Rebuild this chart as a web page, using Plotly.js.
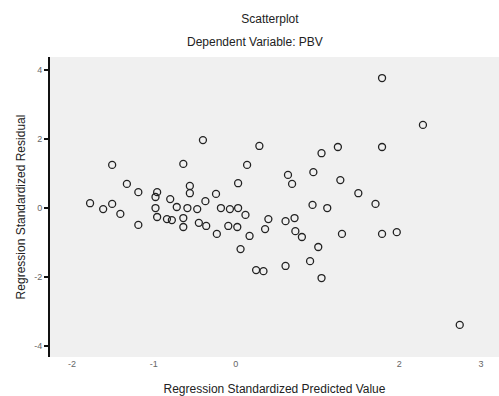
<!DOCTYPE html>
<html>
<head>
<meta charset="utf-8">
<script src="https://cdn.plot.ly/plotly-3.0.1.min.js"></script>
<style>html,body{margin:0;padding:0;background:#fff;}#chart{width:499px;height:396px;}</style>
</head>
<body>
<div id="chart"></div>
<script>
// Regression standardized predicted value (x)
var predicted = [1.79, 2.29, -0.40, 0.29, 1.25, 1.79, 1.05, -0.64, -1.51, 0.14,
  0.95, 0.64, 0.69, 1.28, 0.03, -1.33, -0.56, -0.56, -1.19, -0.96,
  -0.98, -0.80, -0.24, 1.50, -0.37, -1.78, -1.51, -1.62, 1.71, 0.94,
  1.12, -0.72, -0.59, -0.47, -0.98, -0.18, -0.07, 0.03, -1.41, 0.12,
  -0.96, -0.84, -0.78, -0.64, 0.40, 0.61, 0.72, -1.19, -0.64, -0.45,
  -0.36, -0.23, -0.09, 0.02, 0.36, 0.17, 0.73, 0.81, 1.30, 1.79,
  1.97, 0.06, 1.01, 0.91, 0.61, 0.25, 0.34, 1.05, 2.74];
// Regression standardized residual (y)
var residual = [3.77, 2.41, 1.97, 1.80, 1.77, 1.77, 1.59, 1.28, 1.25, 1.25,
  1.04, 0.96, 0.70, 0.81, 0.72, 0.70, 0.64, 0.43, 0.46, 0.46,
  0.32, 0.26, 0.41, 0.43, 0.20, 0.14, 0.12, -0.03, 0.12, 0.09,
  0.00, 0.03, 0.00, -0.03, 0.00, 0.00, -0.03, 0.00, -0.17, -0.20,
  -0.26, -0.32, -0.35, -0.29, -0.32, -0.38, -0.29, -0.49, -0.55, -0.43,
  -0.52, -0.75, -0.52, -0.55, -0.61, -0.81, -0.67, -0.84, -0.75, -0.75,
  -0.70, -1.19, -1.13, -1.54, -1.68, -1.80, -1.83, -2.03, -3.39];
var xTickVals = [-2, -1, 0, 2, 3];
var xTickText = ["-2", "-1", "0", "2", "3"];
var yTickVals = [4, 2, 0, -2, -4];
var yTickText = ["4", "2", "0", "-2", "-4"];

var trace = {
  x: predicted, y: residual, type: 'scatter', mode: 'markers',
  marker: {symbol: 'circle-open', size: 7, color: '#222', line: {width: 1.3, color: '#222'}},
  hoverinfo: 'skip'
};
var font = {family: 'Liberation Sans, Arial, sans-serif', size: 12, color: '#222'};
var layout = {
  width: 499, height: 396,
  margin: {l: 50, r: 0, t: 57, b: 39},
  paper_bgcolor: '#ffffff', plot_bgcolor: '#f0f0f0',
  showlegend: false,
  font: font,
  title: {text: 'Scatterplot', font: font, xref: 'container', x: 0.541, xanchor: 'center', yref: 'container', y: 1 - 19/396, yanchor: 'middle'},
  annotations: [
    {text: 'Dependent Variable: PBV', xref: 'paper', yref: 'paper', x: 0.457, y: 1.05, xanchor: 'center', yanchor: 'middle', showarrow: false, font: font}
  ],
  xaxis: {
    range: [-2.27, 3.22], tickvals: xTickVals, ticktext: xTickText,
    showgrid: false, zeroline: false, showline: false, ticks: '',
    tickfont: {family: 'Liberation Sans, Arial, sans-serif', size: 9, color: '#666'},
    title: {text: 'Regression Standardized Predicted Value', font: font, standoff: 16}
  },
  yaxis: {
    range: [-4.32, 4.38], tickvals: yTickVals, ticktext: yTickText,
    showgrid: false, zeroline: false, showline: true, linecolor: '#111', linewidth: 2,
    ticks: 'outside', ticklen: 4, tickwidth: 1.5, tickcolor: '#111',
    tickfont: {family: 'Liberation Sans, Arial, sans-serif', size: 9, color: '#666'},
    title: {text: 'Regression Standardized Residual', font: font, standoff: 6}
  }
};
Plotly.newPlot('chart', [trace], layout, {displayModeBar: false, staticPlot: true});
</script>
</body>
</html>
